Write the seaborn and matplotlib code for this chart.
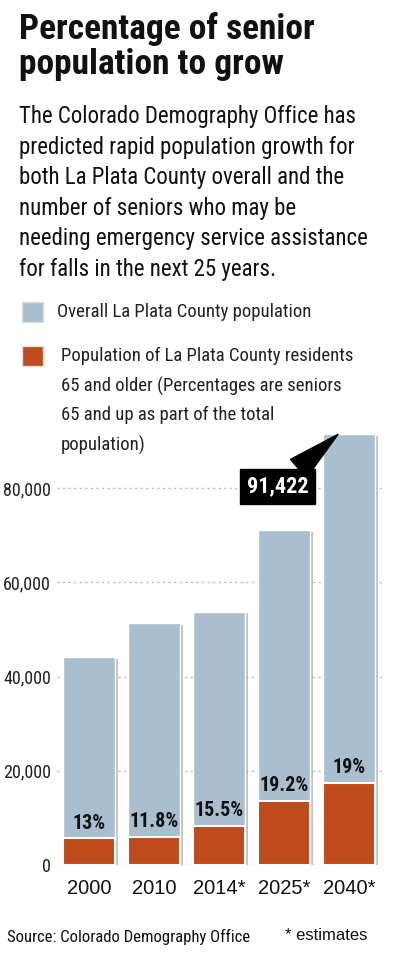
import numpy as np
import pandas as pd
import matplotlib
matplotlib.use("Agg")
import matplotlib.pyplot as plt
import matplotlib.patheffects as pe
import seaborn as sns

years = ["2000", "2010", "2014*", "2025*", "2040*"]
total_pop = [44100, 51300, 53700, 71100, 91422]
senior_pop = [5700, 6050, 8300, 13600, 17400]
senior_pct = ["13%", "11.8%", "15.5%", "19.2%", "19%"]
y_ticks = [0, 20000, 40000, 60000, 80000]

blue = "#a9bfd0"
orange = "#bf4a1b"
cond = ["Roboto Condensed", "DejaVu Sans"]

sns.set_style("white")
plt.rcParams["font.family"] = cond

W, H = 396, 973
fig = plt.figure(figsize=(W / 100, H / 100), dpi=100)

def px(x, y):
    return x / W, 1 - y / H

# axes placed in pixel terms
ax = fig.add_axes([56.5 / W, (H - 865) / H, 325 / W, (865 - 431.7) / H])

df = pd.DataFrame({"year": years, "total": total_pop, "senior": senior_pop})
shadow = [pe.SimplePatchShadow(offset=(2, -1), shadow_rgbFace="#999999", alpha=0.6), pe.Normal()]

sns.barplot(data=df, x="year", y="total", color=blue, saturation=1, width=0.8, ax=ax, zorder=2)
n_blue = len(ax.patches)
sns.barplot(data=df, x="year", y="senior", color=orange, saturation=1, width=0.8, ax=ax,
            edgecolor="white", linewidth=1.5, zorder=3)
for p in ax.patches[:n_blue]:
    p.set_path_effects(shadow)

ax.set_ylim(0, 92000)
ax.set_xlim(-0.5, 4.5)
ax.set_yticks(y_ticks)
ax.set_yticklabels([f"{v:,}" for v in y_ticks], fontsize=13, color="#222222")
ax.set_xticks(range(len(years)))
ax.set_xticklabels(years, fontsize=14.5, family="Liberation Sans", color="#111111")
ax.tick_params(axis="both", length=0, pad=4)
ax.tick_params(axis="x", pad=10)
ax.set_xlabel("")
ax.set_ylabel("")
for s in ax.spines.values():
    s.set_visible(False)
ax.yaxis.grid(True, linestyle=(0, (1.5, 2.5)), color="#bbbbbb", linewidth=1, zorder=0)
ax.set_axisbelow(True)

# percentage labels above the orange bars
for i, (v, lab) in enumerate(zip(senior_pop, senior_pct)):
    ax.annotate(lab, (i, v), xytext=(0, 4), textcoords="offset points",
                ha="center", va="bottom", fontsize=14.5, fontweight="bold", color="#111111")

# call-out for the 2040 total
ax.annotate(f"{total_pop[-1]:,}", xy=(3.83, total_pop[-1]), xytext=(2.9, 80300),
            ha="center", va="center", fontsize=16, fontweight="bold", color="white",
            bbox=dict(boxstyle="square,pad=0.3", fc="black", ec="black"),
            arrowprops=dict(arrowstyle="wedge,tail_width=1.1,shrink_factor=0.5", fc="black", ec="black",
                            shrinkA=0, shrinkB=0),
            zorder=5)

# header text
fig.text(*px(19, 12), "Percentage of senior\npopulation to grow", ha="left", va="top",
         fontsize=25.5, fontweight="bold", color="#111111", linespacing=1.08)
fig.text(*px(19, 105), "The Colorado Demography Office has\npredicted rapid population growth for\n"
         "both La Plata County overall and the\nnumber of seniors who may be\n"
         "needing emergency service assistance\nfor falls in the next 25 years.",
         ha="left", va="top", fontsize=16.5, color="#111111", linespacing=1.42)

# legend
fig.patches.append(plt.Rectangle(px(22, 322), 21 / W, 20 / H, transform=fig.transFigure,
                                 fc=blue, ec="#dddddd", lw=1))
fig.text(*px(57, 312), "Overall La Plata County population", ha="left", va="center",
         fontsize=13.5, color="#222222")
fig.patches.append(plt.Rectangle(px(22, 366), 21 / W, 20 / H, transform=fig.transFigure,
                                 fc=orange, ec="#dddddd", lw=1))
fig.text(*px(61, 347), "Population of La Plata County residents\n65 and older (Percentages are seniors\n"
         "65 and up as part of the total\npopulation)", ha="left", va="top",
         fontsize=13.5, color="#222222", linespacing=1.76)

# footer
fig.text(*px(7, 937), "Source: Colorado Demography Office", ha="left", va="center",
         fontsize=12, color="#111111")
fig.text(*px(285, 935), "* estimates", ha="left", va="center", fontsize=12,
         family="Liberation Sans", color="#111111")

fig.savefig("out.png", dpi=100)
